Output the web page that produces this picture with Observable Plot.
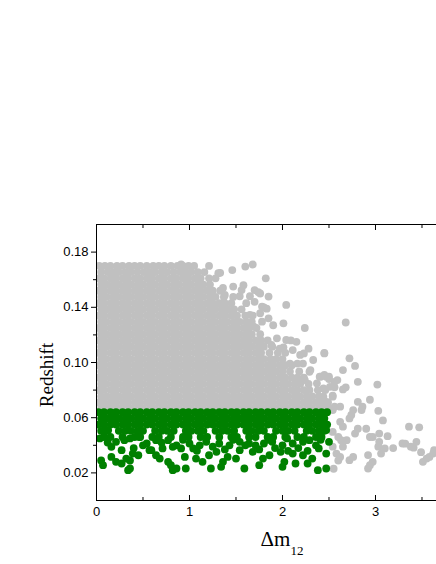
<!DOCTYPE html>
<html><head><meta charset="utf-8">
<script src="https://cdn.jsdelivr.net/npm/d3@7"></script>
<script src="https://cdn.jsdelivr.net/npm/@observablehq/plot@0.6"></script>
<style>body{margin:0;background:#fff} svg{display:block}</style>
</head><body><div id="chart"></div>
<script>
// Tick values
const xMajor = [0, 1, 2, 3];
const xMinor = [0.5, 1.5, 2.5, 3.5];
const yMajor = [0.02, 0.06, 0.10, 0.14, 0.18];
const yMinor = [0.04, 0.08, 0.12, 0.16];

// Dense gray cloud: [redshift, "Δm12 values ×100"]
const grayRows = [
  [0.1700, "3 9 15 22 28 35 41 47 54 61 67 73 80 87 93 99 105"],
  [0.1655, "5 12 18 24 31 37 44 51 57 63 70 76 83 90 96 102 109 116"],
  [0.1610, "2 8 15 21 28 34 41 47 54 60 67 73 80 86 93 99 106 112 121"],
  [0.1565, "5 11 18 24 31 37 44 50 57 63 70 76 83 89 96 102 109 115 122"],
  [0.1520, "2 8 15 21 28 34 41 47 54 60 67 73 80 86 93 99 106 112 119 125 133"],
  [0.1475, "5 11 18 24 31 37 44 50 57 63 70 76 83 89 96 102 109 115 122 128 137 147"],
  [0.1430, "2 8 15 21 28 34 41 47 54 60 67 73 80 86 93 99 106 112 119 125 132 138 145"],
  [0.1385, "5 11 18 24 31 37 44 50 57 63 70 76 83 89 96 102 109 115 122 128 135 141 148 156"],
  [0.1340, "2 8 15 21 28 34 41 47 54 60 67 73 80 86 93 99 106 112 119 125 132 138 145 151 160 168"],
  [0.1295, "5 11 18 24 31 37 44 50 57 63 70 76 83 89 96 102 109 115 122 128 135 141 148 154 161 167"],
  [0.1250, "2 8 15 21 28 34 41 47 54 60 67 73 80 86 93 99 106 112 119 125 132 138 145 151 158 164 172"],
  [0.1205, "5 11 18 24 31 37 44 50 57 63 70 76 83 89 96 102 109 115 122 128 135 141 148 154 161 167 176"],
  [0.1160, "2 8 15 21 28 34 41 47 54 60 67 73 80 86 93 99 106 112 119 125 132 138 145 151 158 164 171 177 184"],
  [0.1115, "5 11 18 24 31 37 44 50 57 63 70 76 83 89 96 102 109 115 122 128 135 141 148 154 161 167 174 180 189"],
  [0.1070, "2 8 15 21 28 34 41 47 54 60 67 73 80 86 93 99 106 112 119 125 132 138 145 151 158 164 171 177 186 195 203"],
  [0.1025, "5 11 18 24 31 37 44 50 57 63 70 76 83 89 96 102 109 115 122 128 135 141 148 154 161 167 174 180 187 193 200"],
  [0.0980, "2 8 15 21 28 34 41 47 54 60 67 73 80 86 93 99 106 112 119 125 132 138 145 151 158 164 171 177 184 190 197 203 210"],
  [0.0935, "5 11 18 24 31 37 44 50 57 63 70 76 83 89 96 102 109 115 122 128 135 141 148 154 161 167 174 180 187 193 200 208 218"],
  [0.0890, "2 8 15 21 28 34 41 47 54 60 67 73 80 86 93 99 106 112 119 125 132 138 145 151 158 164 171 177 184 190 197 203 210 216 223"],
  [0.0845, "5 11 18 24 31 37 44 50 57 63 70 76 83 89 96 102 109 115 122 128 135 141 148 154 161 167 174 180 187 193 200 206 213 219 228"],
  [0.0800, "2 8 15 21 28 34 41 47 54 60 67 73 80 86 93 99 106 112 119 125 132 138 145 151 158 164 171 177 184 190 197 203 210 216 223 229 238 246"],
  [0.0755, "5 11 18 24 31 37 44 50 57 63 70 76 83 89 96 102 109 115 122 128 135 141 148 154 161 167 174 180 187 193 200 206 213 219 226 232 239"],
  [0.0710, "2 8 15 21 28 34 41 47 54 60 67 73 80 86 93 99 106 112 119 125 132 138 145 151 158 164 171 177 184 190 197 203 210 216 223 229 236 242 249"],
  [0.0665, "5 11 18 24 31 37 44 50 57 63 70 76 83 89 96 102 109 115 122 128 135 141 148 154 161 167 174 180 187 193 200 206 213 219 226 232 239 245 251"]
];

// Scattered gray points along the cloud edge: [Δm12, redshift]
const grayEdge = [
  [0.91,0.171],[1.21,0.170],[1.46,0.167],[1.60,0.1695],[1.68,0.171],[1.82,0.161],[1.33,0.165],[1.28,0.161],[1.31,0.1647],
  [1.47,0.155],[1.58,0.156],[1.56,0.1525],[1.36,0.154],[1.38,0.149],[1.70,0.1525],[1.76,0.150],[1.85,0.1478],[1.74,0.151],
  [1.65,0.148],[1.54,0.148],[1.61,0.143],[1.70,0.144],[2.04,0.1417],[1.80,0.140],[1.78,0.1405],[1.83,0.139],
  [1.47,0.1357],[1.65,0.1345],[1.76,0.1357],[1.85,0.132],[1.78,0.1296],[2.01,0.1284],[1.90,0.127],[2.24,0.125],[1.69,0.126],
  [1.94,0.1175],[2.04,0.1163],[2.15,0.115],[2.09,0.116],[1.88,0.1127],[1.97,0.110],[2.01,0.111],[2.11,0.109],[2.19,0.1055],
  [2.28,0.110],[2.45,0.1066],[2.23,0.1066],[2.33,0.1018],[2.22,0.0992],[2.16,0.0992],[2.08,0.0992],[2.01,0.097],[2.29,0.0933],
  [2.30,0.0945],[2.40,0.0897],[2.47,0.0897],[2.41,0.0897],[2.50,0.0897],[2.59,0.0873],[2.37,0.0849],[2.51,0.0824],[2.44,0.0812],
  [2.24,0.0873],[2.54,0.0752],[2.44,0.0752],[2.47,0.0715],[2.54,0.0655]
];

// Sparse gray tail at large Δm12: [Δm12, redshift]
const grayTail = [
  [2.68,0.129],[2.45,0.107],[2.72,0.103],[2.78,0.0975],[2.65,0.0945],[2.45,0.091],[2.50,0.088],[2.56,0.086],[2.81,0.086],
  [3.02,0.084],[2.68,0.082],[2.65,0.0805],[2.56,0.082],[2.54,0.076],[2.94,0.073],[2.81,0.0715],[2.86,0.068],[2.85,0.0655],
  [2.76,0.0655],[2.74,0.062],[2.72,0.0595],[3.03,0.065],[2.62,0.068],[2.56,0.068],[3.08,0.058],[2.62,0.057],[2.65,0.0535],
  [2.90,0.052],[2.94,0.046],[2.97,0.046],[2.81,0.052],[2.78,0.0485],[3.04,0.0485],[3.13,0.0466],[3.04,0.0425],[3.03,0.039],
  [3.19,0.038],[3.10,0.0377],[3.06,0.034],[3.36,0.0535],[3.47,0.053],[3.44,0.0425],[3.29,0.0413],[3.38,0.039],[3.49,0.035],
  [3.63,0.0365],[3.51,0.028],[3.58,0.0316],[2.69,0.0437],[2.65,0.039],[2.72,0.0292],[2.76,0.0316],[2.92,0.0329],[2.94,0.0256],
  [2.97,0.028],[2.92,0.0232],[2.55,0.023],[2.58,0.034],[2.62,0.0316],[2.60,0.029],[2.54,0.039],[2.63,0.0437],[2.60,0.046],
  [2.54,0.0497],[3.32,0.0412],[3.41,0.0383],[3.62,0.034],[3.55,0.0304]
];

// Dense green band: [redshift, "Δm12 values ×100"]
const greenRows = [
  [0.0640, "2 8 15 21 28 34 41 47 54 60 67 73 80 86 93 99 106 112 119 125 132 138 145 151 158 164 171 177 184 190 197 203 210 216 223 229 236 242 248"],
  [0.0595, "5 11 18 24 31 37 44 50 57 63 70 76 83 89 96 102 109 115 122 128 135 141 148 154 161 167 174 180 187 193 200 206 213 219 226 232 239 245"],
  [0.0550, "2 8 15 21 28 34 41 47 54 60 67 73 80 86 93 99 106 112 119 125 132 138 145 151 158 164 171 177 184 190 197 203 210 216 223 229 236 242 248"],
  [0.0505, "5 11 24 31 37 44 50 63 70 76 83 96 102 109 115 128 135 141 148 161 167 174 180 193 200 206 213 226 232 239 245"],
  [0.0460, "8 15 28 41 47 60 67 80 93 99 112 119 132 145 151 164 171 184 190 203 216 223 236 242"]
];

// Sparse green points below the band: [Δm12, redshift]
const greenSparse = [
  [0.07,0.0256],[0.05,0.029],[0.16,0.0316],[0.16,0.0389],[0.27,0.0365],[0.32,0.0304],[0.36,0.029],[0.36,0.0232],[0.34,0.022],
  [0.21,0.028],[0.27,0.0268],[0.45,0.0328],[0.36,0.045],[0.46,0.046],[0.59,0.0365],[0.64,0.0328],[0.68,0.0304],[0.71,0.0377],
  [0.77,0.028],[0.80,0.0256],[0.82,0.022],[0.86,0.0232],[0.95,0.0316],[0.96,0.0232],[0.91,0.0377],[1.04,0.0377],[1.07,0.0304],
  [1.14,0.028],[1.21,0.0328],[1.23,0.0232],[1.34,0.0244],[1.36,0.028],[1.29,0.0353],[1.41,0.0316],[1.50,0.0304],[1.59,0.0232],
  [1.54,0.0365],[1.68,0.0353],[1.75,0.0256],[1.79,0.0304],[1.86,0.0328],[1.98,0.0353],[2.00,0.0244],[2.02,0.028],[2.14,0.0268],
  [2.27,0.0268],[2.11,0.034],[2.22,0.0328],[2.32,0.0304],[2.38,0.022],[2.47,0.0232],[2.39,0.0377],[2.47,0.034],[2.29,0.0437],
  [2.47,0.051],[0.035,0.045],[0.21,0.0425],[0.30,0.0437],[0.54,0.0413],[0.64,0.0437],[0.77,0.0437],[0.86,0.040],[1.00,0.0413],
  [1.11,0.040],[1.18,0.0425],[1.32,0.0413],[1.43,0.040],[1.54,0.0425],[1.64,0.0413],[1.71,0.040],[1.80,0.0413],[1.89,0.0425],
  [2.00,0.040],[2.11,0.0413],[2.22,0.0425],[2.36,0.040],[2.50,0.0425],[0.40,0.038],[0.50,0.040],[0.70,0.042],[0.93,0.044],
  [1.08,0.036],[1.25,0.039],[1.38,0.037],[1.47,0.044],[1.60,0.040],[1.75,0.037],[1.92,0.038],[2.06,0.036],[2.17,0.038],
  [2.27,0.036],[2.41,0.044],[1.85,0.044],[2.05,0.045],[0.12,0.042],[0.39,0.034],[0.57,0.0365],[0.125,0.0509],[0.82,0.0389]
];

const fromRows = rows => rows.flatMap(([y, xs]) => xs.trim().split(/\s+/).map(v => ({x: +v / 100, y})));
const fromPairs = list => list.map(([x, y]) => ({x, y}));
const gray = [...fromRows(grayRows), ...fromPairs(grayEdge), ...fromPairs(grayTail)];
const green = [...fromRows(greenRows), ...fromPairs(greenSparse)];

const blank = () => "";
const plot = Plot.plot({
  width: 436, height: 564,
  marginLeft: 96, marginRight: 0, marginTop: 224, marginBottom: 64,
  x: {domain: [0, 3.656]},
  y: {domain: [0, 0.2]},
  style: {fontFamily: "'Liberation Sans', Arial, sans-serif", fontSize: "13px", background: "#fff", color: "#000"},
  marks: [
    Plot.dot(gray, {x: "x", y: "y", r: 3.9, fill: "#c0c0c0", clip: true}),
    Plot.dot(green, {x: "x", y: "y", r: 3.9, fill: "#008000", clip: true}),
    Plot.ruleX([0], {stroke: "#000"}),
    Plot.ruleY([0], {stroke: "#000"}),
    Plot.ruleY([0.2], {stroke: "#000"}),
    Plot.axisY({ticks: yMajor, tickSize: 5, tickPadding: 3, tickFormat: d3.format(".2f"), label: null}),
    Plot.axisY({ticks: yMinor, tickSize: 3, tickFormat: blank, label: null}),
    Plot.axisX({anchor: "bottom", ticks: xMajor, tickSize: -5, tickFormat: blank, label: null}),
    Plot.axisX({anchor: "bottom", ticks: xMinor, tickSize: -3, tickFormat: blank, label: null}),
    Plot.axisX({anchor: "bottom", ticks: xMajor, tickSize: 0, tickPadding: 6, tickFormat: d3.format("d"), label: null}),
    Plot.axisX({anchor: "top", ticks: xMajor, tickSize: -5, tickFormat: blank, label: null}),
    Plot.axisX({anchor: "top", ticks: xMinor, tickSize: -3, tickFormat: blank, label: null})
  ]
});

const svg = d3.select(plot);
svg.append("text")
  .attr("transform", "translate(53,375) rotate(-90)")
  .attr("text-anchor", "middle")
  .attr("font-family", "'Liberation Serif', 'Times New Roman', serif")
  .attr("font-size", 19)
  .attr("fill", "#000")
  .text("Redshift");
const xl = svg.append("text")
  .attr("x", 282).attr("y", 546)
  .attr("text-anchor", "middle")
  .attr("font-family", "'Liberation Serif', 'Times New Roman', serif")
  .attr("font-size", 21)
  .attr("fill", "#000");
xl.append("tspan").text("Δm");
xl.append("tspan").attr("dy", 9).attr("font-size", 13).text("12");

document.getElementById("chart").appendChild(plot);
</script>
</body></html>
